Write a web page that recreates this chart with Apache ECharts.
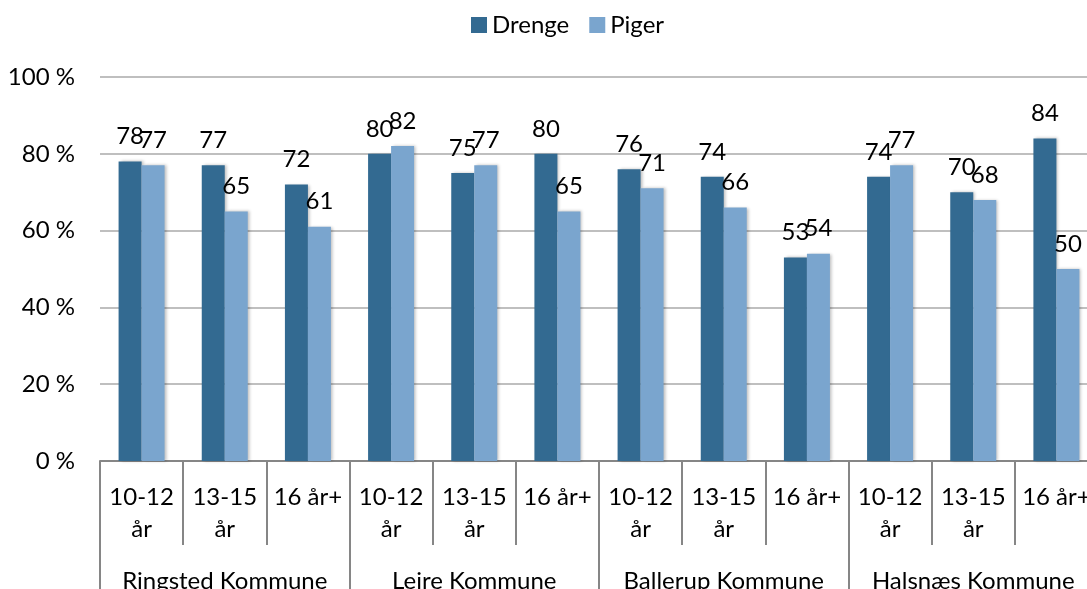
<!DOCTYPE html>
<html>
<head>
<meta charset="utf-8">
<script src="https://cdn.jsdelivr.net/npm/echarts@6/dist/echarts.min.js"></script>
<style>
  html, body { margin: 0; padding: 0; background: #fff; }
  #chart { width: 1087px; height: 589px; }
</style>
</head>
<body>
<div id="chart"></div>
<script>
// data
var ageGroups = ['10-12\når', '13-15\når', '16 år+',
                 '10-12\når', '13-15\når', '16 år+',
                 '10-12\når', '13-15\når', '16 år+',
                 '10-12\når', '13-15\når', '16 år+'];
var kommuner = ['Ringsted Kommune', 'Lejre Kommune', 'Ballerup Kommune', 'Halsnæs Kommune'];
var drenge = [78, 77, 72, 80, 75, 80, 76, 74, 53, 74, 70, 84];
var piger = [77, 65, 61, 82, 77, 65, 71, 66, 54, 77, 68, 50];
var yTicks = [0, 20, 40, 60, 80, 100];

var font = 'Lato, "Open Sans", sans-serif';
var fs = 24;
var axisGrey = '#868686';

var chart = echarts.init(document.getElementById('chart'));

function barLabel() {
    return {
        show: true,
        position: 'top',
        distance: 11,
        color: '#000',
        fontFamily: font,
        fontSize: fs,
        lineHeight: 28
    };
}

var option = {
    animation: false,
    legend: {
        data: ['Drenge', 'Piger'],
        left: 466,
        top: 8,
        itemWidth: 16,
        itemHeight: 16,
        itemGap: 20,
        icon: 'rect',
        textStyle: { fontFamily: font, fontSize: fs, color: '#000', padding: [0, 0, 0, 0] }
    },
    // the plot runs past the right and bottom edges, like the original
    grid: { left: 100, top: 77, width: 998, height: 384, outerBoundsMode: 'none', containLabel: false },
    xAxis: [{
        type: 'category',
        position: 'bottom',
        data: ageGroups,
        axisLine: { lineStyle: { color: axisGrey, width: 2 } },
        axisTick: { show: true, interval: 0, length: 84, lineStyle: { color: axisGrey, width: 2 } },
        axisLabel: {
            interval: 0,
            margin: 20,
            verticalAlign: 'top',
            lineHeight: 32,
            color: '#000',
            fontFamily: font,
            fontSize: fs
        }
    }, {
        type: 'category',
        position: 'bottom',
        data: kommuner,
        axisLine: { show: false },
        axisTick: { show: true, interval: 0, length: 130, lineStyle: { color: axisGrey, width: 2 } },
        axisLabel: {
            interval: 0,
            margin: 104,
            verticalAlign: 'top',
            lineHeight: 32,
            color: '#000',
            fontFamily: font,
            fontSize: fs
        }
    }],
    yAxis: {
        type: 'value',
        min: yTicks[0],
        max: yTicks[yTicks.length - 1],
        interval: 20,
        axisLine: { show: false },
        axisTick: { show: false },
        splitLine: { lineStyle: { color: '#bfbfbf', width: 2 } },
        axisLabel: {
            margin: 25,
            color: '#000',
            fontFamily: font,
            fontSize: fs,
            formatter: '{value} %'
        }
    },
    series: [{
        name: 'Drenge',
        type: 'bar',
        data: drenge,
        barWidth: 23,
        barGap: '0%',
        itemStyle: {
            color: '#336a91',
            shadowColor: 'rgba(0,0,0,0.25)',
            shadowBlur: 3,
            shadowOffsetX: 2
        },
        label: barLabel()
    }, {
        name: 'Piger',
        type: 'bar',
        data: piger,
        barWidth: 23,
        barGap: '0%',
        itemStyle: {
            color: '#7aa5ce',
            shadowColor: 'rgba(0,0,0,0.25)',
            shadowBlur: 3,
            shadowOffsetX: 2
        },
        label: barLabel()
    }]
};

chart.setOption(option);
</script>
</body>
</html>
